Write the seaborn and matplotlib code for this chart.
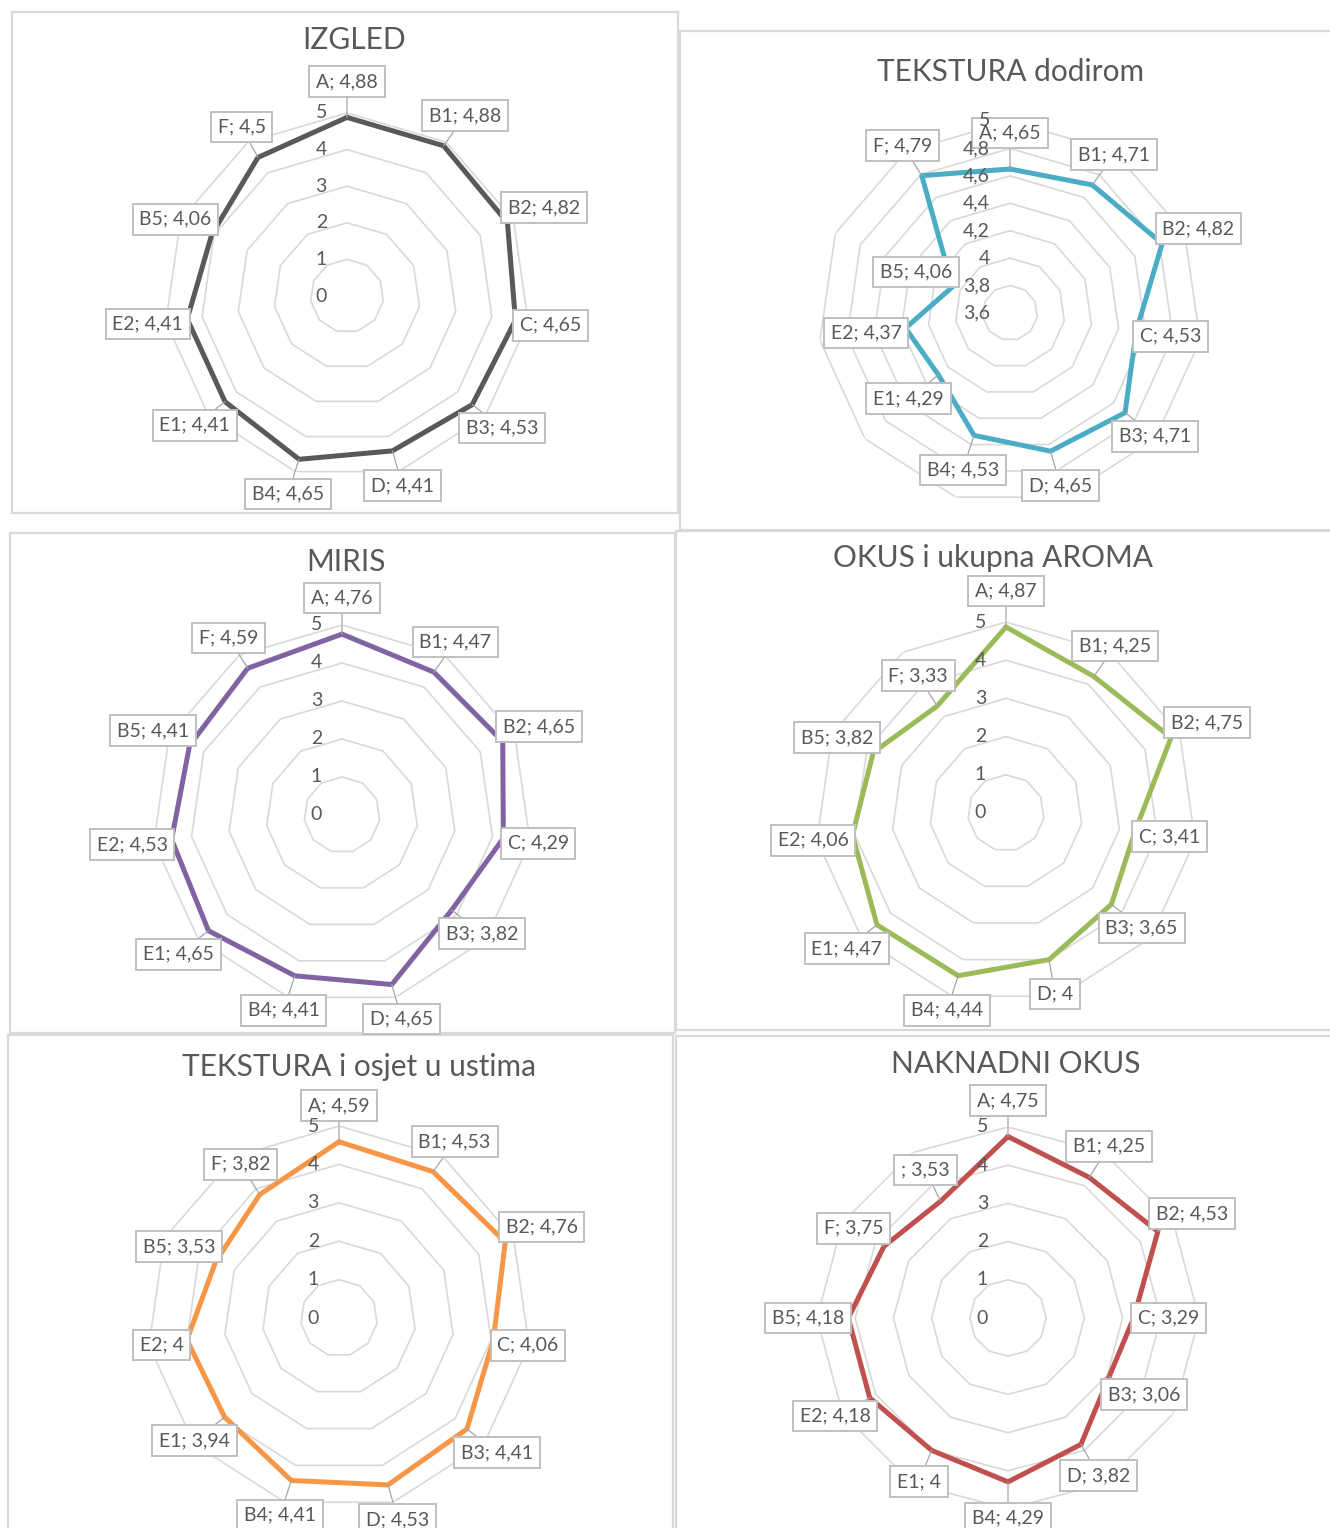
import numpy as np
import pandas as pd
import matplotlib
matplotlib.use("Agg")
import matplotlib.pyplot as plt
from matplotlib.patches import Rectangle
import seaborn as sns

# ---- data -------------------------------------------------------------
categories = ["A", "B1", "B2", "C", "B3", "D", "B4", "E1", "E2", "B5", "F"]
categories_okus = categories + [""]

izgled = [4.88, 4.88, 4.82, 4.65, 4.53, 4.41, 4.65, 4.41, 4.41, 4.06, 4.5]
tekstura_dodirom = [4.65, 4.71, 4.82, 4.53, 4.71, 4.65, 4.53, 4.29, 4.37, 4.06, 4.79]
miris = [4.76, 4.47, 4.65, 4.29, 3.82, 4.65, 4.41, 4.65, 4.53, 4.41, 4.59]
okus_aroma = [4.87, 4.25, 4.75, 3.41, 3.65, 4, 4.44, 4.47, 4.06, 3.82, 3.33]
tekstura_usta = [4.59, 4.53, 4.76, 4.06, 4.41, 4.53, 4.41, 3.94, 4, 3.53, 3.82]
naknadni_okus = [4.75, 4.25, 4.53, 3.29, 3.06, 3.82, 4.29, 4, 4.18, 4.18, 3.75, 3.53]

titles = ["IZGLED", "TEKSTURA dodirom", "MIRIS", "OKUS i ukupna AROMA",
          "TEKSTURA i osjet u ustima", "NAKNADNI OKUS"]

# ---- styling ----------------------------------------------------------
sns.set_theme(style="white")
plt.rcParams["font.family"] = ["Lato", "DejaVu Sans"]

W, H = 1330, 1528
TEXT = "#595959"
GRID = "#d9d9d9"
FRAME = "#d9d9d9"
BOXEDGE = "#bfbfbf"

fig = plt.figure(figsize=(W / 100, H / 100), dpi=100)
fig.patch.set_facecolor("white")


def fmt(v):
    return f"{round(v, 2):g}".replace(".", ",")


# panel layout in pixels: frame box, chart centre, radius, title position
panels = [
    dict(title=titles[0], cats=categories, vals=izgled, color="#595959",
         box=(12, 12, 678, 513), c=(347, 296), R=183, t=(354, 40),
         rmin=0, rmax=5, step=1),
    dict(title=titles[1], cats=categories, vals=tekstura_dodirom, color="#4bacc6",
         box=(680, 31, 1345, 530), c=(1010, 313), R=192, t=(1011, 72),
         rmin=3.6, rmax=5, step=0.2),
    dict(title=titles[2], cats=categories, vals=miris, color="#8064a2",
         box=(10, 533, 675, 1033), c=(342, 815), R=190, t=(346, 562),
         rmin=0, rmax=5, step=1),
    dict(title=titles[3], cats=categories, vals=okus_aroma, color="#9bbb59",
         box=(676, 531, 1345, 1030), c=(1006, 813), R=191, t=(993, 558),
         rmin=0, rmax=5, step=1),
    dict(title=titles[4], cats=categories, vals=tekstura_usta, color="#f79646",
         box=(8, 1035, 673, 1545), c=(339, 1318), R=192, t=(359, 1067),
         rmin=0, rmax=5, step=1),
    dict(title=titles[5], cats=categories_okus, vals=naknadni_okus, color="#c0504d",
         box=(676, 1036, 1345, 1545), c=(1008, 1318), R=191, t=(1016, 1064),
         rmin=0, rmax=5, step=1),
]

for p in panels:
    x0, y0, x1, y1 = p["box"]
    fig.add_artist(Rectangle((x0 / W, 1 - y1 / H), (x1 - x0) / W, (y1 - y0) / H,
                             transform=fig.transFigure, fill=False,
                             ec=FRAME, lw=1.6, zorder=0))
    fig.text(p["t"][0] / W, 1 - p["t"][1] / H, p["title"], ha="center",
             va="center", fontsize=21.5, color=TEXT)

    cx, cy = p["c"]
    R = p["R"]
    ax = fig.add_axes([(cx - R) / W, (H - cy - R) / H, 2 * R / W, 2 * R / H],
                      projection="polar")
    ax.set_theta_offset(np.pi / 2)
    ax.set_theta_direction(-1)
    ax.set_axis_off()

    n = len(p["cats"])
    theta = np.linspace(0, 2 * np.pi, n, endpoint=False)
    theta_closed = np.append(theta, 2 * np.pi)

    # polygonal grid rings and their value labels
    ticks = np.round(np.arange(p["rmin"], p["rmax"] + p["step"] / 2, p["step"]), 2)
    for t in ticks:
        if t > p["rmin"]:
            ax.plot(theta_closed, [t] * (n + 1), color=GRID, lw=1.2, zorder=1)
        ax.annotate(fmt(t), xy=(0, t), xytext=(-20, 0), textcoords="offset pixels",
                    ha="right", va="center", fontsize=14, color=TEXT, zorder=7,
                    annotation_clip=False)

    df = pd.DataFrame({"theta": theta_closed,
                       "score": list(p["vals"]) + [p["vals"][0]]})
    sns.lineplot(data=df, x="theta", y="score", sort=False, ax=ax,
                 color=p["color"], lw=3.6, zorder=3)
    ax.set_ylim(p["rmin"], p["rmax"])

    # data callouts
    for th, cat, v in zip(theta, p["cats"], p["vals"]):
        label = f"{cat}; {fmt(v)}"
        dx = np.sin(th) * (len(label) * 4.8 + 1.5)
        dy = np.cos(th) * 36
        ax.annotate(label, xy=(th, v), xytext=(dx, dy), textcoords="offset pixels",
                    ha="center", va="center", fontsize=14, color=TEXT, zorder=5,
                    annotation_clip=False,
                    bbox=dict(boxstyle="square,pad=0.35", fc="white",
                              ec=BOXEDGE, lw=1.4),
                    arrowprops=dict(arrowstyle="-", color="#a6a6a6", lw=0.9,
                                    shrinkA=0, shrinkB=0))

fig.savefig("out.png", dpi=100, facecolor="white")
